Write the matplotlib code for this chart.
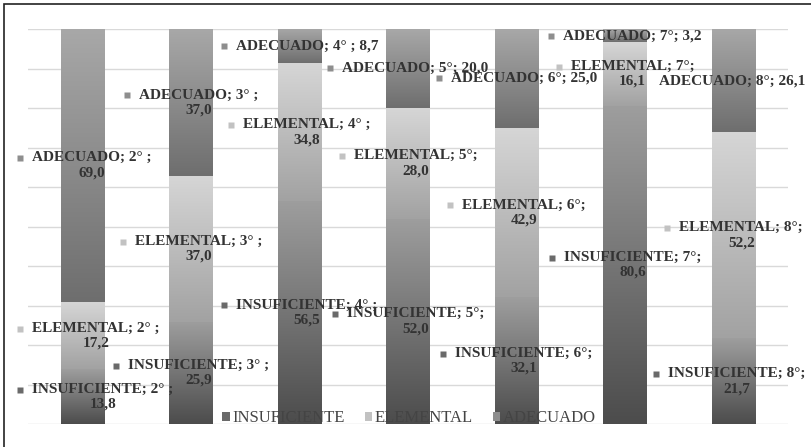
import numpy as np
import matplotlib
matplotlib.use("Agg")
import matplotlib.pyplot as plt
from matplotlib.colors import LinearSegmentedColormap
from matplotlib.patches import Patch, Rectangle

plt.rcParams['font.family'] = ['Liberation Serif', 'DejaVu Serif']

# datos (porcentaje por grado)
grados = ["2°", "3°", "4°", "5°", "6°", "7°", "8°"]
niveles = ["INSUFICIENTE", "ELEMENTAL", "ADECUADO"]
insuficiente = [13.8, 25.9, 56.5, 52.0, 32.1, 80.6, 21.7]
elemental = [17.2, 37.0, 34.8, 28.0, 42.9, 16.1, 52.2]
adecuado = [69.0, 37.0, 8.7, 20.0, 25.0, 3.2, 26.1]
series = [insuficiente, elemental, adecuado]

# estilo: degradado (abajo, arriba), color del marcador
grad_cols = [("#4c4c4c", "#9e9e9e"), ("#a2a2a2", "#d6d6d6"), ("#6e6e6e", "#a8a8a8")]
key_cols = ["#6a6a6a", "#c2c2c2", "#8e8e8e"]

W, H = 812, 447
fig = plt.figure(figsize=(W / 100, H / 100), dpi=100)
ax = fig.add_axes([28 / W, 23 / H, 760 / W, 395 / H])

x = np.arange(len(grados))
base = np.zeros(len(grados))
grad = np.linspace(0, 1, 256).reshape(-1, 1)
all_bars = []
for k, vals in enumerate(series):
    cmap = LinearSegmentedColormap.from_list("g%d" % k, grad_cols[k])
    bars = ax.bar(x, vals, 0.4, bottom=base, color='none', edgecolor='none', zorder=2)
    for b in bars:
        x0, y0 = b.get_x(), b.get_y()
        ax.imshow(grad, extent=[x0, x0 + b.get_width(), y0, y0 + b.get_height()],
                  cmap=cmap, aspect='auto', origin='lower', zorder=2,
                  interpolation='bilinear')
    all_bars.append(bars)
    base += np.array(vals)

ax.set_xlim(-0.5, len(grados) - 0.5)
ax.set_ylim(0, 100)
ax.set_yticks(np.arange(0, 101, 10))
ax.grid(axis='y', color='#d9d9d9', lw=1, zorder=0)
ax.set_axisbelow(True)
ax.tick_params(length=0, labelbottom=False, labelleft=False)
for s in ax.spines.values():
    s.set_visible(False)

# etiquetas de datos
texts = []
for k, vals in enumerate(series):
    for i, b in enumerate(all_bars[k]):
        sep = " ;" if i < 3 else ";"
        val = ("%.1f" % vals[i]).replace(".", ",")
        single = (k == 2 and i >= 2)
        s = "%s; %s%s%s%s" % (niveles[k], grados[i], sep, " " if single else "\n", val)
        yc = b.get_y() + b.get_height() / 2
        t = ax.text(b.get_x() + b.get_width() / 2, yc, s, ha='center', va='center',
                    fontsize=11, fontweight='bold', color='#333333', linespacing=1.2,
                    zorder=6)
        texts.append((t, k, i, single))

fig.canvas.draw()
r = fig.canvas.get_renderer()
inv = ax.transData.inverted()
for t, k, i, single in texts:
    bb = t.get_window_extent(r)
    px, py = ax.transData.transform(t.get_position())
    shift = px - ((bb.x0 - 15) + bb.x1) / 2
    left = bb.x0 - 15 + shift
    if left < 17:
        shift += 17 - left
    if bb.x1 + shift > 805:
        shift -= bb.x1 + shift - 805
    t.set_position(inv.transform((px + shift, py)))
    if (k, i) == (2, 6):
        continue  # su marcador queda tapado en el original
    my = (bb.y0 + bb.y1) / 2 if single else bb.y1 - bb.height / 4
    mx, my = inv.transform((bb.x0 + shift - 12, my))
    ax.plot([mx], [my], marker='s', ms=4.2, color=key_cols[k], mec='none',
            zorder=6, clip_on=False)

handles = [Patch(facecolor=key_cols[k], edgecolor='none') for k in range(3)]
fig.legend(handles, niveles, loc='center', bbox_to_anchor=(409 / W, 1 - 418 / H),
           ncol=3, frameon=False, fontsize=12, handlelength=0.45, handleheight=0.45,
           handletextpad=0.15, columnspacing=1.2, labelcolor='#444444')

fig.patches.append(Rectangle((4 / W, -0.05), 1.0, 1.05 - 4 / H, fill=False,
                             lw=1.2, ec='#222222', transform=fig.transFigure))

plt.savefig("out.png", dpi=100)
